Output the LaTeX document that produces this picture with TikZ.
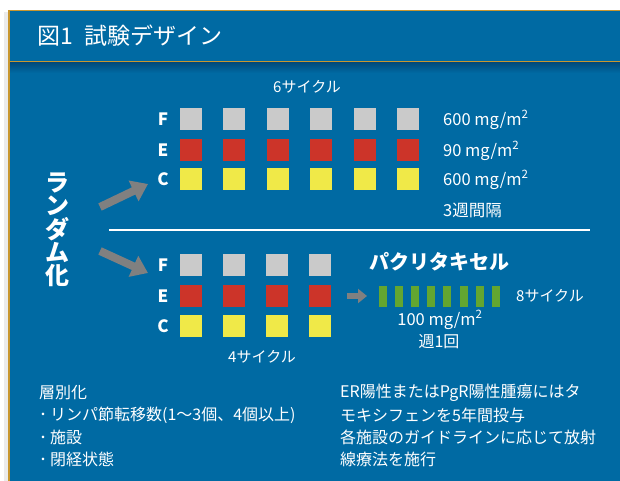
\documentclass[tikz,border=0pt]{standalone}
\usepackage{fontspec}
\setmainfont{Noto Sans CJK JP}
\usetikzlibrary{arrows.meta}
\definecolor{panelblue}{HTML}{006AA3}
\definecolor{shadowblue}{HTML}{004A7C}
\definecolor{goldline}{HTML}{C8962E}
\definecolor{sqgray}{HTML}{CACACA}
\definecolor{sqred}{HTML}{CC3429}
\definecolor{sqyellow}{HTML}{F0E948}
\definecolor{bargreen}{HTML}{63A630}
\definecolor{arrowgray}{HTML}{808080}
\begin{document}
\begin{tikzpicture}[x=1pt,y=-1pt,
  sq/.style={minimum size=22pt,inner sep=0pt,outer sep=0pt},
  gsq/.style={sq,fill=sqgray},
  rsq/.style={sq,fill=sqred},
  ysq/.style={sq,fill=sqyellow},
  gbar/.style={minimum width=8pt,minimum height=21pt,inner sep=0pt,outer sep=0pt,fill=bargreen},
  rowlbl/.style={text=white,font=\fontsize{17}{17}\selectfont\bfseries,inner sep=0pt},
  txt/.style={text=white,font=\fontsize{15}{15}\selectfont,inner sep=0pt},
  dose/.style={text=white,font=\fontsize{16.5}{16.5}\selectfont,inner sep=0pt},
  btxt/.style={text=white,font=\fontsize{16}{16}\selectfont,inner sep=0pt,anchor=west},
  bigarrow/.style={draw=arrowgray,line width=8pt,-{Triangle[length=16pt,width=22pt]}},
  smallarrow/.style={draw=arrowgray,line width=6pt,-{Triangle[length=9pt,width=14pt]}}
]
\useasboundingbox (0,0) rectangle (620,481);
\fill[white] (0,0) rectangle (620,481);
% panel shadow
\fill[black!8] (4,12) rectangle (8,481);
\fill[panelblue] (8,10) rectangle (620,481);
\shade[top color=shadowblue,bottom color=panelblue] (8.75,62.5) rectangle (620,73);
\draw[goldline,line width=1.5pt] (8.75,481) -- (8.75,10.75) -- (620,10.75);
\draw[goldline,line width=1pt] (8.75,62) -- (620,62);
% title
\node[anchor=west,text=white,font=\fontsize{23}{23}\selectfont,inner sep=0pt] (title) at (37,35.5) {図1\hspace{12pt}試験デザイン};
% randomisation
\node[text=white,font=\fontsize{24}{23.3}\selectfont\bfseries,align=center,inner sep=0pt] (rand) at (57,230) {ラ\\ン\\ダ\\ム\\化};
% top arm
\node[txt] (six) at (307,87) {6サイクル};
\node[rowlbl] (tFl) at (163,119) {F};
\node[rowlbl] (tEl) at (163,150) {E};
\node[rowlbl] (tCl) at (163,179) {C};
\foreach \i [evaluate=\i as \x using {191+43.4*(\i-1)}] in {1,...,6} {
  \node[gsq] (tF\i) at (\x,119) {};
  \node[rsq] (tE\i) at (\x,150) {};
  \node[ysq] (tC\i) at (\x,179) {};
}
\node[dose,anchor=west] (dF) at (443,120) {600 mg/m\textsuperscript{2}};
\node[dose,anchor=west] (dE) at (443,151) {90 mg/m\textsuperscript{2}};
\node[dose,anchor=west] (dC) at (443,180) {600 mg/m\textsuperscript{2}};
\node[dose,anchor=west] (q3w) at (443,210) {3週間隔};
% divider
\coordinate (l1) at (109,230);
\coordinate (l2) at (590,230);
\draw[white,line width=2.5pt] (l1) -- (l2);
% arrows
\coordinate (a1s) at (100,207);
\coordinate (a1e) at (148,184);
\coordinate (a2s) at (100,251);
\coordinate (a2e) at (148,273);
\draw[bigarrow] (a1s) -- (a1e);
\draw[bigarrow] (a2s) -- (a2e);
% bottom arm
\node[rowlbl] (bFl) at (163,265) {F};
\node[rowlbl] (bEl) at (163,296) {E};
\node[rowlbl] (bCl) at (163,326) {C};
\foreach \i [evaluate=\i as \x using {191+43*(\i-1)}] in {1,...,4} {
  \node[gsq] (bF\i) at (\x,265) {};
  \node[rsq] (bE\i) at (\x,296) {};
  \node[ysq] (bC\i) at (\x,326) {};
}
\node[txt] (four) at (262,357) {4サイクル};
\coordinate (s1) at (347,296);
\coordinate (s2) at (367,296);
\draw[smallarrow] (s1) -- (s2);
\node[text=white,font=\fontsize{20}{20}\selectfont\bfseries,inner sep=0pt] (pac) at (439,262) {パクリタキセル};
\foreach \i [evaluate=\i as \x using {383+16.1*(\i-1)}] in {1,...,8} {
  \node[gbar] (g\i) at (\x,296) {};
}
\node[txt,anchor=west] (eight) at (516,296) {8サイクル};
\node[dose] (pdose) at (440,320) {100 mg/m\textsuperscript{2}};
\node[txt,font=\fontsize{16}{16}\selectfont] (weekly) at (439,342) {週1回};
% bottom notes
\node[btxt] (n1) at (39,393) {層別化};
\node[btxt] (n2) at (39,415) {･\hspace{3pt}リンパ節転移数(1〜3個、4個以上)};
\node[btxt] (n3) at (39,437) {･\hspace{3pt}施設};
\node[btxt] (n4) at (39,459) {･\hspace{3pt}閉経状態};
\node[btxt] (m1) at (340,393) {ER陽性またはPgR陽性腫瘍にはタ};
\node[btxt] (m2) at (340,415) {モキシフェンを5年間投与};
\node[btxt] (m3) at (340,437) {各施設のガイドラインに応じて放射};
\node[btxt] (m4) at (340,459) {線療法を施行};
\end{tikzpicture}
\end{document}
